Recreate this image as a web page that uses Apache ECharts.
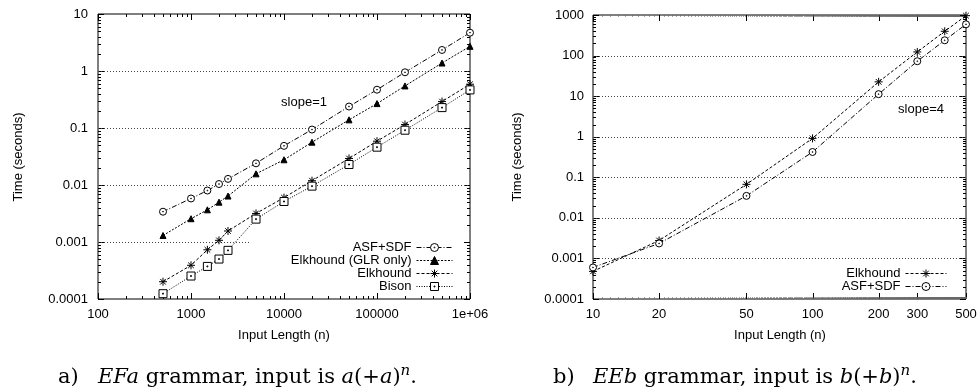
<!DOCTYPE html>
<html>
<head>
<meta charset="utf-8">
<script src="https://cdn.jsdelivr.net/npm/echarts@6/dist/echarts.min.js"></script>
<style>
html, body { margin: 0; padding: 0; background: #fff; }
#chart { width: 979px; height: 392px; }
</style>
</head>
<body>
<div id="chart"></div>
<script>
// a) EFa grammar, time vs input length
const aSizes   = [500, 1000, 1500, 2000, 2500, 5000, 10000, 20000, 50000, 100000, 200000, 500000, 1000000];
const aAsfSdf  = [0.0034, 0.0058, 0.0080, 0.0104, 0.0128, 0.024, 0.0486, 0.094, 0.238, 0.47, 0.95, 2.34, 4.7];
const aElkGlr  = [0.0013, 0.00256, 0.00367, 0.0050, 0.0064, 0.0157, 0.0277, 0.0564, 0.139, 0.268, 0.547, 1.38, 2.71];
const aElk     = [0.000201, 0.00039, 0.00073, 0.00107, 0.00156, 0.00317, 0.0060, 0.0119, 0.0292, 0.0587, 0.115, 0.291, 0.586];
const aBison   = [0.000124, 0.000253, 0.000373, 0.000502, 0.000713, 0.00252, 0.00514, 0.00955, 0.0229, 0.0461, 0.0915, 0.228, 0.466];

// b) EEb grammar
const bSizes   = [10, 20, 50, 100, 200, 300, 400, 500];
const bElk     = [0.00048, 0.00277, 0.067, 0.91, 22.5, 123, 397, 963];
const bAsfSdf  = [0.0006, 0.00234, 0.0348, 0.42, 11.2, 72.6, 238, 590];

// axes / ticks
const aXRange = [100, 1000000];
const aYRange = [0.0001, 10];
const aXTicks = [100, 1000, 10000, 100000, 1000000];
const aYTicks = [0.0001, 0.001, 0.01, 0.1, 1, 10];
const aGridLines = [1, 0.1, 0.01];
const bXRange = [10, 500];
const bYRange = [0.0001, 1000];
const bXTicks = [10, 20, 50, 100, 200, 300, 500];
const bXTickLabels = ['10', '20', '50', '100', '200', '300', '500'];
const bYTicks = [0.0001, 0.001, 0.01, 0.1, 1, 10, 100, 1000];
const bGridLines = [100, 10, 1, 0.1, 0.01, 0.001];

const SANS = '"Liberation Sans", Arial, sans-serif';
const SERIF = '"DejaVu Serif", serif';

// symbols (gnuplot-ish)
const SYM_CIRCLE = 'path://M10,5A5,5,0,1,1,0,5A5,5,0,1,1,10,5ZM5.6,5A0.6,0.6,0,1,1,4.4,5A0.6,0.6,0,1,1,5.6,5Z';
const SYM_STAR = 'path://M5,0L5,10M0,5L10,5M1.5,1.5L8.5,8.5M1.5,8.5L8.5,1.5';
const SYM_BOX = 'path://M0,0L10,0L10,10L0,10ZM4.4,4.4L5.6,4.4L5.6,5.6L4.4,5.6Z';

function minorDecades(lo, hi) {
  const out = [];
  for (let e = Math.round(Math.log10(lo)); e < Math.round(Math.log10(hi)); e++) {
    for (let k = 2; k <= 9; k++) out.push(+(k * Math.pow(10, e)).toPrecision(3));
  }
  return out;
}

function fmtNum(v) {
  const n = parseFloat(Number(v).toPrecision(6));
  if (n >= 1000000) return '1e+06';
  return String(n);
}

function lineSeries(gi, name, xs, ys, symbol, size, dash, fill) {
  return {
    type: 'line', name: name, xAxisIndex: gi, yAxisIndex: gi,
    data: xs.map((x, i) => [x, ys[i]]),
    symbol: symbol, symbolSize: size, showSymbol: true, clip: false, z: 3,
    lineStyle: { color: '#000', width: 1, type: dash },
    itemStyle: { color: fill, borderColor: '#000', borderWidth: 1 },
    emphasis: { disabled: true }
  };
}

// frame: ticks on all four sides, grid lines, custom labels
function frameSeries(gi, xr, yr, items) {
  const crisp = v => Math.round(v) + 0.5;
  return {
    type: 'custom', xAxisIndex: gi, yAxisIndex: gi, silent: true, clip: false, z: 1,
    data: items.map(it => [it.k === 'yt' || it.k === 'grid' ? xr[0] : it.v, it.k === 'yt' || it.k === 'grid' ? it.v : yr[0]]),
    renderItem: function (params, api) {
      const it = items[params.dataIndex];
      const st = { stroke: it.c || '#000', lineWidth: it.w || 1 };
      if (it.k === 'xt') {
        const b = api.coord([it.v, yr[0]]), t = api.coord([it.v, yr[1]]);
        const x = crisp(b[0]);
        return { type: 'group', children: [
          { type: 'line', shape: { x1: x, y1: b[1], x2: x, y2: b[1] - it.len }, style: st },
          { type: 'line', shape: { x1: x, y1: t[1], x2: x, y2: t[1] + it.len }, style: st }
        ] };
      }
      if (it.k === 'yt') {
        const l = api.coord([xr[0], it.v]), r = api.coord([xr[1], it.v]);
        const y = crisp(l[1]);
        return { type: 'group', children: [
          { type: 'line', shape: { x1: l[0], y1: y, x2: l[0] + it.len, y2: y }, style: st },
          { type: 'line', shape: { x1: r[0], y1: y, x2: r[0] - it.len, y2: y }, style: st }
        ] };
      }
      if (it.k === 'grid') {
        const a = api.coord([xr[0], it.v]), b = api.coord([it.x2 || xr[1], it.v]);
        const y = crisp(a[1]);
        return { type: 'line', shape: { x1: a[0], y1: y, x2: b[0], y2: y },
          style: { stroke: '#444', lineWidth: 1, lineDash: [1, 2] } };
      }
      if (it.k === 'xl') {
        const b = api.coord([it.v, yr[0]]);
        return { type: 'text', x: b[0], y: b[1] + 15,
          style: { text: it.text, fill: '#000', font: '13px ' + SANS,
            align: 'center', verticalAlign: 'middle', textAlign: 'center', textVerticalAlign: 'middle' } };
      }
      return null;
    }
  };
}

// frame items
const aFrame = []
  .concat(aXTicks.map(v => ({ k: 'xt', v: v, len: 6 })))
  .concat(minorDecades(aXRange[0], aXRange[1]).map(v => ({ k: 'xt', v: v, len: 3 })))
  .concat(aYTicks.map(v => ({ k: 'yt', v: v, len: 6 })))
  .concat(minorDecades(aYRange[0], aYRange[1]).map(v => ({ k: 'yt', v: v, len: 3 })))
  .concat(aGridLines.map(v => ({ k: 'grid', v: v })))
  .concat([{ k: 'grid', v: 0.001, x2: 4300 }]);

const bMinorX = [];
for (let n = bXRange[0] + 1; n < bXRange[1]; n++) if (bXTicks.indexOf(n) < 0) bMinorX.push(n);
const bFrame = []
  .concat(bXTicks.map(v => ({ k: 'xt', v: v, len: 6 })))
  .concat(bMinorX.map(v => ({ k: 'xt', v: v, len: 2, w: 0.6, c: '#666' })))
  .concat(bYTicks.map(v => ({ k: 'yt', v: v, len: 6 })))
  .concat(minorDecades(bYRange[0], bYRange[1]).map(v => ({ k: 'yt', v: v, len: 3 })))
  .concat(bGridLines.map(v => ({ k: 'grid', v: v })))
  .concat(bXTicks.map((v, i) => ({ k: 'xl', v: v, text: bXTickLabels[i] })));

function logAxis(gi, range, showLabel, margin) {
  return {
    type: 'log', logBase: 10, gridIndex: gi, min: range[0], max: range[1], splitNumber: 7,
    axisLine: { show: false }, axisTick: { show: false }, splitLine: { show: false },
    axisLabel: { show: showLabel, margin: margin, color: '#000', fontSize: 13, fontFamily: SANS, formatter: fmtNum }
  };
}

// caption in LaTeX-like style
function captionText(x0, tag, gram, v) {
  const tok = extra => Object.assign({
    fontFamily: SERIF, fontSize: 21, fill: '#000', color: '#000', lineHeight: 28, verticalAlign: 'middle'
  }, extra || {});
  return {
    type: 'text', x: x0, y: 378,
    style: {
      text: '{t|' + tag + ')}{i|' + gram + '}{r| grammar, input is }{i|' + v + '}{r|(+}{i|' + v + '}{r|)}{s|n}{r|.}',
      rich: {
        t: tok({ width: 40, align: 'left' }),
        r: tok(),
        i: tok({ fontStyle: 'italic' }),
        s: tok({ fontSize: 15, lineHeight: 14, verticalAlign: 'top', fontStyle: 'italic' })
      },
      font: '21px ' + SERIF, fill: '#000',
      align: 'left', verticalAlign: 'middle', textAlign: 'left', textVerticalAlign: 'middle'
    }
  };
}

function plainText(x, y, text, rot) {
  return { type: 'text', x: x, y: y, rotation: rot || 0,
    style: { text: text, fill: '#000', font: '13px ' + SANS, align: 'center', verticalAlign: 'middle', textAlign: 'center', textVerticalAlign: 'middle' } };
}

const legendBase = {
  orient: 'vertical', align: 'right', padding: 0, itemGap: 0, itemHeight: 10, selectedMode: false,
  textStyle: { color: '#000', fontSize: 13, fontFamily: SANS },
  itemStyle: { borderWidth: 1 },
  lineStyle: { width: 1 }
};

const chart = echarts.init(document.getElementById('chart'), null, { renderer: 'canvas' });

chart.setOption({
  animation: false,
  backgroundColor: '#fff',
  grid: [
    { left: 98, top: 14, width: 372, height: 285, show: true, borderColor: '#000', borderWidth: 1, backgroundColor: 'transparent' },
    { left: 593, top: 15, width: 373, height: 284, show: true, borderColor: '#000', borderWidth: 1, backgroundColor: 'transparent' }
  ],
  xAxis: [logAxis(0, aXRange, true, 9), logAxis(1, bXRange, false, 9)],
  yAxis: [logAxis(0, aYRange, true, 10), logAxis(1, bYRange, true, 9)],
  legend: [
    Object.assign({}, legendBase, {
      data: ['ASF+SDF', 'Elkhound (GLR only)', 'Elkhound', 'Bison'],
      right: 526, top: 241, itemWidth: 36
    }),
    Object.assign({}, legendBase, {
      data: ['Elkhound', 'ASF+SDF'],
      right: 32, top: 267, itemWidth: 41
    })
  ],
  graphic: [
    plainText(18, 157, 'Time (seconds)', Math.PI / 2),
    plainText(517, 157, 'Time (seconds)', Math.PI / 2),
    plainText(284, 335, 'Input Length (n)'),
    plainText(780, 335, 'Input Length (n)'),
    plainText(304, 102, 'slope=1'),
    plainText(921, 109, 'slope=4'),
    captionText(58, 'a', 'EFa', 'a'),
    captionText(553, 'b', 'EEb', 'b')
  ],
  series: [
    frameSeries(0, aXRange, aYRange, aFrame),
    frameSeries(1, bXRange, bYRange, bFrame),
    lineSeries(0, 'ASF+SDF', aSizes, aAsfSdf, SYM_CIRCLE, 7, [5, 2, 1, 2], '#fff'),
    lineSeries(0, 'Elkhound (GLR only)', aSizes, aElkGlr, 'triangle', 6, [2, 1.5], '#000'),
    lineSeries(0, 'Elkhound', aSizes, aElk, SYM_STAR, 8, [3, 2], '#000'),
    lineSeries(0, 'Bison', aSizes, aBison, SYM_BOX, 8, [1, 1.5], '#fff'),
    lineSeries(1, 'Elkhound', bSizes, bElk, SYM_STAR, 8, [3, 2], '#000'),
    lineSeries(1, 'ASF+SDF', bSizes, bAsfSdf, SYM_CIRCLE, 7, [5, 2, 1, 2], '#fff')
  ]
});
</script>
</body>
</html>
